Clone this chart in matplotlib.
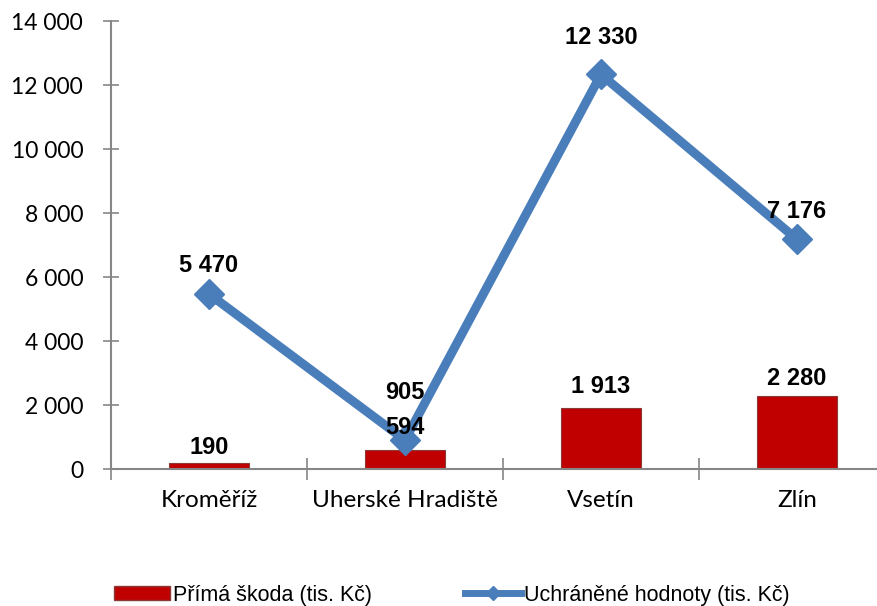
import matplotlib
matplotlib.use("Agg")
import matplotlib.pyplot as plt
from matplotlib.lines import Line2D
from matplotlib.patches import Patch
import numpy as np

categories = ["Kroměříž", "Uherské Hradiště", "Vsetín", "Zlín"]
prima_skoda = [190, 594, 1913, 2280]
uchranene = [5470, 905, 12330, 7176]
yticks = [0, 2000, 4000, 6000, 8000, 10000, 12000, 14000]
series_names = ["Přímá škoda (tis. Kč)", "Uchráněné hodnoty (tis. Kč)"]

def fmt(v):
    return f"{v:,}".replace(",", " ")

RED = "#C00000"
BLUE = "#4A7EBB"
GRAY = "#868686"
tick_font = ["Lato", "DejaVu Sans"]
lab_font = ["Liberation Sans", "DejaVu Sans"]

fig = plt.figure(figsize=(8.77, 6.06), dpi=100)
ax = fig.add_axes([111/877, 1-469/606, 784/877, 448/606])
x = np.arange(len(categories))
ax.bar(x, prima_skoda, width=0.41, color=RED, edgecolor="#8B3A3A", linewidth=0.8, zorder=2)
ax.plot(x, uchranene, color=BLUE, linewidth=6.5, marker="D", markersize=15, zorder=3)

ax.set_xlim(-0.5, len(categories) - 0.5)
ax.set_ylim(0, 14000)
ax.set_yticks(yticks)
ax.set_yticklabels([fmt(v) for v in yticks], fontsize=16.5, family=tick_font)
ax.set_xticks(x)
ax.set_xticklabels(categories, fontsize=17.5, family=tick_font)
ax.tick_params(axis="x", length=0, pad=15)
ax.set_xticks(np.arange(len(categories) + 1) - 0.5, minor=True)
ax.tick_params(axis="x", which="minor", direction="inout", length=16, width=1.2, color=GRAY)
ax.tick_params(axis="y", direction="inout", length=12, width=1.2, color=GRAY, pad=14)
for s in ["top", "right"]:
    ax.spines[s].set_visible(False)
for s in ["left", "bottom"]:
    ax.spines[s].set_color(GRAY)
    ax.spines[s].set_linewidth(1.5)

bar_off = [2.5, 8, 7, 4]
for xi, v, o in zip(x, prima_skoda, bar_off):
    ax.annotate(fmt(v), (xi, v), xytext=(0, o), textcoords="offset points",
                ha="center", va="bottom", fontsize=17, fontweight="bold", family=lab_font)
line_off = [12, 26, 18, 12]
for xi, v, o in zip(x, uchranene, line_off):
    ax.annotate(fmt(v), (xi, v), xytext=(0, o), textcoords="offset points",
                ha="center", va="bottom", fontsize=17, fontweight="bold", family=lab_font)

handles = [Patch(facecolor=RED, edgecolor="#8B3A3A", label=series_names[0]),
           Line2D([0], [0], color=BLUE, linewidth=5, marker="D", markersize=7, label=series_names[1])]
fig.legend(handles=handles, loc="center", bbox_to_anchor=(0.515, 0.018), ncol=2, frameon=False,
           prop={"family": ["Liberation Sans", "DejaVu Sans"], "size": 15.5},
           handlelength=2.6, handletextpad=0.15, columnspacing=4.3, handleheight=0.6)

fig.savefig("out.png", dpi=100)
